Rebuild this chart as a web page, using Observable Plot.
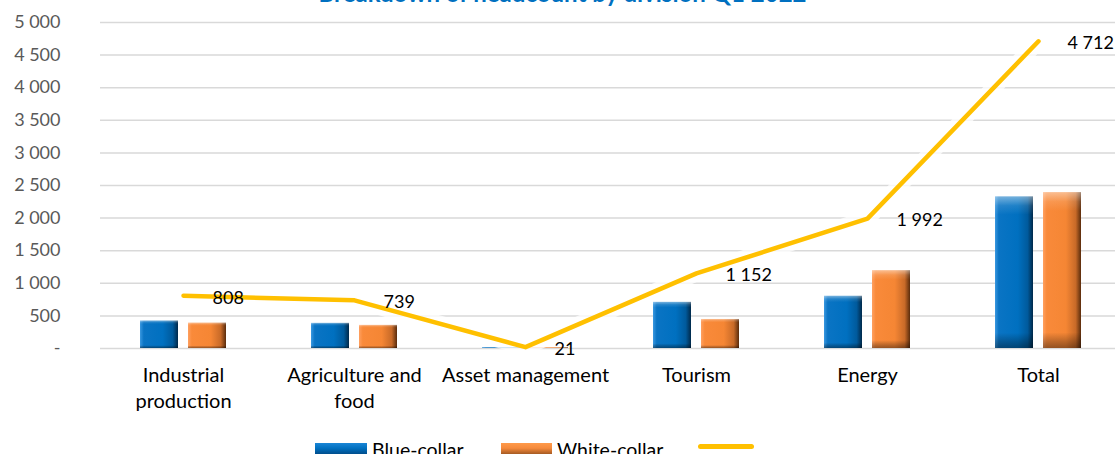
<!DOCTYPE html>
<html>
<head>
<meta charset="utf-8">
<script src="https://cdn.jsdelivr.net/npm/d3@7"></script>
<script src="https://cdn.jsdelivr.net/npm/@observablehq/plot@0.6"></script>
<style>
  html, body { margin: 0; padding: 0; background: #fff; overflow: hidden; }
  body { width: 1115px; height: 454px; position: relative; font-family: Lato, "Open Sans", sans-serif; }
  #title { position: absolute; left: 0; width: 1125px; text-align: center; top: -20px; line-height: 26px;
           font-size: 24px; font-weight: bold; color: #0070C0; white-space: nowrap; }
  #chart { position: absolute; left: 0; top: 0; }
  #legend { position: absolute; top: 438px; left: 0; width: 1115px; height: 30px; font-size: 19.5px; color: #000; }
  .sw { position: absolute; top: 5px; height: 13px; }
  .lt { position: absolute; top: 0; line-height: 24px; white-space: nowrap; }
</style>
</head>
<body>
<div id="title">Breakdown of headcount by division Q1 2022</div>
<div id="chart"></div>
<div id="legend">
  <div class="sw" style="left:315px;width:52px;background:linear-gradient(#1a86d6,#0070C0 40%,#00427a);"></div>
  <div class="lt" style="left:372px;">Blue-collar</div>
  <div class="sw" style="left:501px;width:51px;background:linear-gradient(#ff9a4a,#f58a3c 40%,#8a4a1a);"></div>
  <div class="lt" style="left:557px;">White-collar</div>
  <div class="sw" style="left:698px;width:56px;top:6px;height:5px;border-radius:3px;background:#FFC000;"></div>
</div>
<script>
const categories = ["Industrial\nproduction", "Agriculture and\nfood", "Asset management", "Tourism", "Energy", "Total"];
const blueCollar = [420, 385, 11, 707, 800, 2323];
const whiteCollar = [388, 354, 10, 445, 1192, 2389];
const totals = [808, 739, 21, 1152, 1992, 4712];
const yTicks = [0, 500, 1000, 1500, 2000, 2500, 3000, 3500, 4000, 4500, 5000];

const fmt = d => d === 0 ? "-" : d3.format(",")(d).replace(/,/g, " ");

const blueData = categories.map((c, i) => ({category: c, value: blueCollar[i]}));
const whiteData = categories.map((c, i) => ({category: c, value: whiteCollar[i]}));
const totalData = categories.map((c, i) => ({category: c, value: totals[i]}));

const chart = Plot.plot({
  width: 1115,
  height: 420,
  marginTop: 22,
  marginBottom: 72,
  marginLeft: 100,
  marginRight: 0,
  style: {fontFamily: "Lato, 'Open Sans', sans-serif", background: "transparent", overflow: "visible"},
  x: {type: "band", domain: categories, range: [97.5, 1123.5], paddingInner: 0.778, paddingOuter: 0.389},
  y: {domain: [0, 5000]},
  marks: [
    Plot.ruleY(yTicks, {stroke: "#d9d9d9", strokeWidth: 1.5}),
    Plot.axisY({ticks: yTicks, tickFormat: fmt, tickSize: 0, tickPadding: 40, fontSize: 18, color: "#595959", label: null}),
    Plot.axisX({tickSize: 0, tickPadding: 15, fontSize: 20, lineHeight: 1.3, color: "#000", label: null}),
    Plot.barY(blueData, {x: "category", y: "value", dx: -24, fill: "url(#gBlueH)"}),
    Plot.barY(blueData, {x: "category", y: "value", dx: -24, fill: "url(#gShadeV)"}),
    Plot.barY(whiteData, {x: "category", y: "value", dx: 24, fill: "url(#gOrangeH)"}),
    Plot.barY(whiteData, {x: "category", y: "value", dx: 24, fill: "url(#gShadeV)"}),
    Plot.line(totalData, {x: "category", y: "value", stroke: "#ffffff", strokeWidth: 16, strokeOpacity: 0.75, strokeLinejoin: "round"}),
    Plot.line(totalData, {x: "category", y: "value", stroke: "#FFC000", strokeWidth: 4.5, strokeLinecap: "round", strokeLinejoin: "round"}),
    Plot.text(totalData, {x: "category", y: "value", text: d => fmt(d.value), textAnchor: "start", dx: 29, dy: 2, fontSize: 18, fill: "#000"})
  ]
});

const svg = d3.select(chart);
const defs = svg.insert("defs", ":first-child");
function hGrad(id, stops) {
  const g = defs.append("linearGradient").attr("id", id).attr("x1", 0).attr("x2", 1).attr("y1", 0).attr("y2", 0);
  stops.forEach(([o, c]) => g.append("stop").attr("offset", o).attr("stop-color", c));
}
hGrad("gBlueH", [[0, "#3a98e0"], [0.1, "#0a74c4"], [0.6, "#0070C0"], [0.86, "#005a9c"], [1, "#00294a"]]);
hGrad("gOrangeH", [[0, "#ffa060"], [0.1, "#f98a3a"], [0.6, "#f58634"], [0.86, "#c86a28"], [1, "#5a2c0c"]]);
const v = defs.append("linearGradient").attr("id", "gShadeV").attr("x1", 0).attr("x2", 0).attr("y1", 0).attr("y2", 1);
[[0, "#ffffff", 0.45], [0.06, "#ffffff", 0.12], [0.12, "#ffffff", 0], [0.9, "#000000", 0], [0.96, "#000000", 0.25], [1, "#000000", 0.4]]
  .forEach(([o, c, a]) => v.append("stop").attr("offset", o).attr("stop-color", c).attr("stop-opacity", a));

document.getElementById("chart").appendChild(chart);
</script>
</body>
</html>
